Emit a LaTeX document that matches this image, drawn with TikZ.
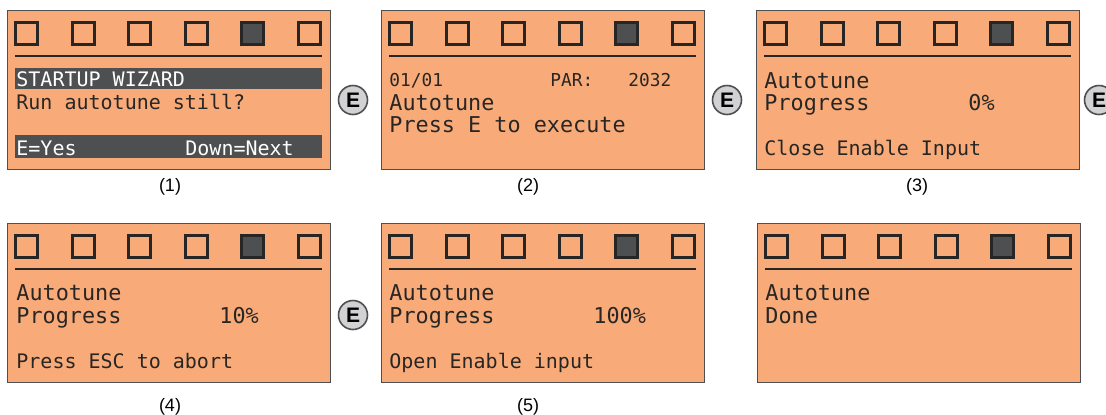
\documentclass[tikz,border=0pt]{standalone}
\usepackage{fontspec}
\setmainfont{Liberation Sans}
\newfontfamily\lcdfont{DejaVu Sans Mono}
\usetikzlibrary{positioning}
\definecolor{lcdbg}{RGB}{248,171,120}
\definecolor{lcddark}{RGB}{78,79,81}
\definecolor{lcdink}{RGB}{40,38,37}
\definecolor{keygray}{RGB}{210,210,212}

\begin{document}
\begin{tikzpicture}[x=0.5pt, y=-0.5pt,
    panel/.style={draw=lcddark, fill=lcdbg, line width=0.5pt},
    led/.style={draw=lcdink, line width=1.5pt},
    big/.style={anchor=base west, inner sep=0pt, text=lcdink,
        font=\lcdfont\fontsize{10.9}{13}\selectfont},
    mid/.style={big, font=\lcdfont\fontsize{10}{12}\selectfont},
    small/.style={big, font=\lcdfont\fontsize{8.9}{11}\selectfont},
    inv/.style={mid, text=white},
    key/.style={circle, draw=lcddark, fill=keygray, line width=0.8pt,
        minimum size=14.5pt, inner sep=0pt,
        font=\bfseries\fontsize{10.5}{11}\selectfont},
    caption/.style={inner sep=0pt, font=\fontsize{9}{10}\selectfont}]
    \useasboundingbox (0,0) rectangle (1106,414);
    \clip (0,0) rectangle (1106,414);

    \foreach \px/\py in {7/10, 381/10, 756/10, 7/223, 381/223, 757/223} {
        \begin{scope}[shift={(\px,\py)}]
            \draw[panel] (0,0) rectangle (323,159);
            \foreach \i in {0,...,5}
                \draw[led] (8.5+56.6*\i,12.5) rectangle (30.5+56.6*\i,34.5);
            \fill[lcddark] (8.5+56.6*4,12.5) rectangle (30.5+56.6*4,34.5);
            \draw[led] (8.5+56.6*4,12.5) rectangle (30.5+56.6*4,34.5);
            \draw[lcdink, line width=1.2pt] (8,46) -- (315,46);
        \end{scope}
    }

    \begin{scope}[shift={(7,10)}]
        \fill[lcddark] (8,58) rectangle (315,79);
        \fill[lcddark] (8,125) rectangle (315,148);
        \node[inv] (w1) at (9,76) {STARTUP WIZARD};
        \node[mid] (w2) at (9,99) {Run autotune still?};
        \node[inv] (w3) at (9,145) {E=Yes};
        \node[inv] (w4) at (178,145) {Down=Next};
    \end{scope}

    \begin{scope}[shift={(381,10)}]
        \node[small] (p1) at (8,76) {01/01};
        \node[small] (p2) at (169,76) {PAR:};
        \node[small] (p3) at (247,76) {2032};
        \node[big] (p4) at (8,100) {Autotune};
        \node[big] (p5) at (8,122) {Press E to execute};
    \end{scope}

    \begin{scope}[shift={(756,10)}]
        \node[big] (c1) at (8,78) {Autotune};
        \node[big] (c2) at (8,100) {Progress};
        \node[big] (c3) at (212,100) {0\%};
        \node[mid] (c4) at (8,145) {Close Enable Input};
    \end{scope}

    \begin{scope}[shift={(7,223)}]
        \node[big] (a1) at (9,77) {Autotune};
        \node[big] (a2) at (9,100) {Progress};
        \node[big] (a3) at (212,100) {10\%};
        \node[mid] (a4) at (9,145) {Press ESC to abort};
    \end{scope}

    \begin{scope}[shift={(381,223)}]
        \node[big] (o1) at (8,77) {Autotune};
        \node[big] (o2) at (8,100) {Progress};
        \node[big] (o3) at (212,100) {100\%};
        \node[mid] (o4) at (8,145) {Open Enable input};
    \end{scope}

    \begin{scope}[shift={(757,223)}]
        \node[big] (d1) at (8,77) {Autotune};
        \node[big] (d2) at (8,100) {Done};
    \end{scope}

    \node[key] (E1) at (353,100) {E};
    \node[key] (E2) at (727,100) {E};
    \node[key] (E3) at (1099,100) {E};
    \node[key] (E4) at (353,315) {E};

    \node[caption] (L1) at (170,187) {(1)};
    \node[caption] (L2) at (528,187) {(2)};
    \node[caption] (L3) at (917,187) {(3)};
    \node[caption] (L4) at (170,407) {(4)};
    \node[caption] (L5) at (528,407) {(5)};
\end{tikzpicture}
\end{document}
